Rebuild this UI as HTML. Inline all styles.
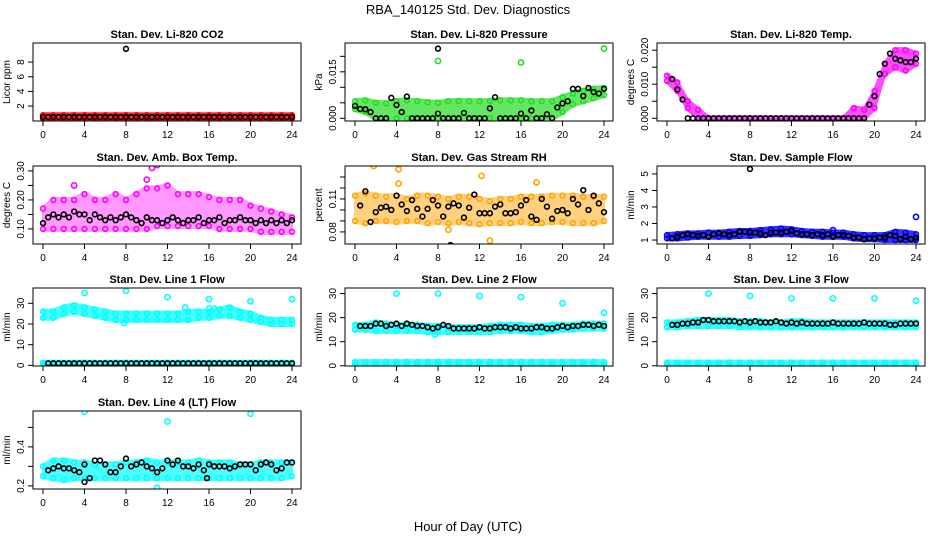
<!DOCTYPE html>
<html><head><meta charset="utf-8">
<style>
html,body{margin:0;padding:0;background:#fff;}
svg{display:block;font-family:"Liberation Sans",sans-serif;}
</style></head>
<body>
<svg id="fig" width="936" height="540" viewBox="0 0 936 540" xmlns="http://www.w3.org/2000/svg">
<text x="468" y="14" text-anchor="middle" font-size="13">RBA_140125  Std. Dev. Diagnostics</text>
<text x="468" y="531" text-anchor="middle" font-size="13">Hour of Day (UTC)</text>
</svg>
<script>
// ---- data (hourly colored bands: 25 values; black points: every 0.5 h, 49 values) ----
const xTicks = [0,4,8,12,16,20,24];
const co2Lo = [0.3,0.3,0.3,0.3,0.3,0.3,0.3,0.3,0.3,0.3,0.3,0.3,0.3,0.3,0.3,0.3,0.3,0.3,0.3,0.3,0.3,0.3,0.3,0.3,0.3];
const co2Hi = [0.75,0.75,0.75,0.75,0.75,0.75,0.75,0.75,0.75,0.75,0.75,0.75,0.75,0.75,0.75,0.75,0.75,0.75,0.75,0.75,0.75,0.75,0.75,0.75,0.75];
const co2Blk = [0.5,0.5,0.5,0.5,0.5,0.5,0.5,0.5,0.5,0.5,0.5,0.5,0.5,0.5,0.5,0.5,0.5,0.5,0.5,0.5,0.5,0.5,0.5,0.5,0.5,0.5,0.5,0.5,0.5,0.5,0.5,0.5,0.5,0.5,0.5,0.5,0.5,0.5,0.5,0.5,0.5,0.5,0.5,0.5,0.5,0.5,0.5,0.5,0.5];
const co2Out = [];
const co2BlkOut = [[8,9.8]];

const presHi = [.0055,.0058,.0050,.0048,.0055,.0058,.0055,.0052,.0050,.0055,.0056,.0055,.0055,.0056,.0058,.0058,.0058,.0055,.0055,.0055,.0068,.0080,.0088,.0095,.0098];
const presLo = [.0030,.0020,.0000,.0000,.0000,.0000,.0000,.0000,.0000,.0000,.0000,.0000,.0000,.0000,.0000,.0000,.0000,.0000,.0000,.0000,.0020,.0045,.0055,.0065,.0075];
const presBlk = [.0040,.0030,.0029,.0020,.0000,.0000,.0000,.0066,.0043,.0020,.0070,.0000,.0000,.0000,.0000,.0000,.0015,.0000,.0000,.0000,.0000,.0017,.0000,.0000,.0000,.0000,.0032,.0068,.0000,.0000,.0000,.0000,.0015,.0000,.0025,.0000,.0000,.0013,.0000,.0035,.0048,.0055,.0095,.0095,.0072,.0098,.0085,.0080,.0095];
const presOut = [[8,.0185],[16,.018],[24,.0225]];
const presBlkOut = [[8,.0225]];

const tempHi = [.0125,.0105,.0050,.0025,0,0,0,0,0,0,0,0,0,0,0,0,0,0,.0030,.0025,.0080,.0160,.0200,.0200,.0190];
const tempLo = [.0110,.0080,.0030,0,0,0,0,0,0,0,0,0,0,0,0,0,0,0,0,0,.0030,.0130,.0150,.0140,.0160];
const tempBlk = [null,.0115,.0085,.0055,0,0,0,0,0,0,0,0,0,0,0,0,0,0,0,0,0,0,0,0,0,0,0,0,0,0,0,0,0,0,0,0,0,0,0,.0040,.0065,.0130,.0160,.0190,.0175,.0170,.0165,.0165,.0175];
const tempOut = [];
const tempBlkOut = [];

const ambHi = [.17,.20,.20,.20,.22,.20,.20,.22,.20,.22,.24,.24,.25,.22,.22,.22,.21,.20,.20,.20,.18,.17,.16,.15,.14];
const ambLo = [.10,.10,.10,.10,.10,.10,.10,.10,.10,.10,.10,.11,.11,.11,.11,.11,.11,.10,.10,.10,.10,.09,.09,.09,.09];
const ambBlk = [.12,.14,.15,.14,.15,.14,.16,.15,.15,.13,.15,.14,.13,.14,.13,.14,.15,.14,.13,.12,.14,.13,.13,.12,.13,.14,.13,.12,.13,.13,.14,.12,.13,.13,.14,.12,.13,.13,.14,.13,.13,.12,.13,.12,.13,.12,.13,.12,.13];
const ambOut = [[10.5,.31],[11,.32],[10,.27],[3,.25]];
const ambBlkOut = [];

const rhHi = [.113,.115,.113,.112,.113,.110,.113,.113,.112,.110,.112,.112,.110,.108,.110,.110,.112,.112,.112,.113,.113,.113,.112,.112,.112];
const rhLo = [.090,.088,.090,.090,.089,.090,.090,.088,.089,.088,.089,.088,.087,.088,.088,.088,.089,.088,.088,.089,.089,.088,.088,.088,.090];
const rhBlk = [null,.104,.117,.089,.098,.102,.103,.100,.113,.105,.099,.109,.101,.094,.101,.109,.104,.094,.103,.106,.104,.093,.102,.114,.097,.097,.097,.103,.105,.097,.097,.098,.104,.109,.094,.091,.110,.103,.092,.099,.100,.097,.110,.105,.118,.100,.113,.106,.098];
const rhOut = [[1.8,.140],[4.2,.137],[4.2,.124],[12.2,.131],[17.5,.125],[9,.082],[13,.072]];
const rhBlkOut = [[9.2,.068]];

const sfHi = [1.3,1.35,1.4,1.4,1.45,1.45,1.5,1.55,1.55,1.6,1.65,1.7,1.65,1.55,1.5,1.5,1.45,1.45,1.35,1.3,1.3,1.3,1.5,1.45,1.35];
const sfLo = [1.1,1.1,1.15,1.2,1.2,1.2,1.2,1.25,1.25,1.3,1.35,1.35,1.35,1.3,1.25,1.2,1.2,1.2,1.1,1.05,1.05,1.0,1.0,1.0,1.0];
const sfBlk = [null,1.1,1.2,1.3,1.35,1.3,1.25,1.3,1.2,1.35,1.4,1.35,1.3,1.35,1.5,1.5,1.45,1.45,1.4,1.3,1.45,1.45,1.45,1.5,1.55,1.4,1.35,1.35,1.3,1.35,1.3,1.35,1.2,1.3,1.3,1.25,1.15,1.15,1.05,1.1,1.1,1.15,1.15,1.3,1.25,1.05,1.2,1.05,1.15];
const sfOut = [[24,2.4],[16,1.6]];
const sfBlkOut = [[8,5.3]];

const l1Hi = [26,26,28,29,28,27,26,25,25,25,25,25,25,25,26,26,26,27,28,26,25,23,22,22,22];
const l1Lo = [23,23,25,26,25,24,23,22,22,22,22,22,22,22,22,23,23,24,24,23,22,21,20,20,20];
const l1Blk = [null,1,1,1,1,1,1,1,1,1,1,1,1,1,1,1,1,1,1,1,1,1,1,1,1,1,1,1,1,1,1,1,1,1,1,1,1,1,1,1,1,1,1,1,1,1,1,1,1];
const l1Out = [[4,35],[8,36],[12,33],[16,32],[20,31],[24,32],[13.7,28],[16,27.5],[16.5,27.5],[7.8,20.5],[0.2,0.3]];
const l1BlkOut = [];

const l2Hi = [17,17,18,17.5,17,17,17,16.5,16.5,16,16,16,16,16.5,17,17,17,16.5,16.5,17,17,17,17.5,17.5,17.5];
const l2Lo = [15,15,14.5,14.5,14.5,14.5,14.5,14,14,14,14,14,14,14,14.5,14.5,14.5,14,14,14.5,15,15,15.5,15.5,15.5];
const l2Blk = [null,16.5,16.5,16.5,17.5,17.5,16.5,17,17.5,16.5,17.5,17,16.5,16.5,16,15.5,16,17,16.5,15.5,15.5,15.5,15.5,15.5,16,15.5,15.5,16,16,16,15.5,16,15.5,15.5,15.5,16,16,15.5,15.5,16,16.5,16,16.5,16.5,17,17,16.5,17,16.5];
const l2Out = [[4,30],[8,30],[12,29],[16,28.5],[20,26],[24,22],[7.7,13]];
const l2BlkOut = [];

const l3Hi = [18,18,18.5,19,19,19,19,18.5,18.5,18.5,18,18,18.5,18.5,18,18,18,18,18,18,18,18,18,18,18];
const l3Lo = [16,16,16.5,16.5,16.5,16.5,16.5,16,16,16,16,16,16,16,16,16,16,16,16,16,16,16,16,16,16];
const l3Blk = [null,17,17,17.5,17.5,18,18,19,19,18.5,18.5,18.5,18.5,18.5,18,18.5,18,18.5,18,18,18,18.5,18,17.5,18,17.5,18,17.5,17.5,17.5,17.5,17.5,18,17.5,17.5,17.5,17.5,17.5,18,17.5,17.5,17.5,17.5,17,17,17.5,17.5,17.5,17.5];
const l3Out = [[4,30],[8,29],[12,28],[16,28],[20,28],[24,27]];
const l3BlkOut = [];

const l4Hi = [.30,.33,.33,.32,.32,.31,.31,.31,.32,.32,.33,.32,.32,.32,.32,.33,.32,.32,.32,.31,.31,.32,.32,.32,.32];
const l4Lo = [.25,.24,.23,.24,.24,.24,.24,.24,.24,.24,.24,.24,.24,.24,.24,.24,.24,.24,.24,.24,.24,.24,.24,.24,.25];
const l4Blk = [null,.28,.29,.30,.29,.29,.28,.27,.31,.24,.33,.33,.31,.27,.27,.30,.34,.30,.31,.32,.30,.29,.27,.29,.33,.31,.33,.30,.30,.29,.31,.28,.31,.30,.30,.30,.29,.30,.31,.31,.31,.28,.31,.32,.31,.28,.29,.32,.32];
const l4Out = [[4,.58],[12,.53],[20,.57],[11,.19]];
const l4BlkOut = [[4,.22],[15.8,.24]];

const l1BaseLo = [0.3,0.3,0.3,0.3,0.3,0.3,0.3,0.3,0.3,0.3,0.3,0.3,0.3,0.3,0.3,0.3,0.3,0.3,0.3,0.3,0.3,0.3,0.3,0.3,0.3];
const l1BaseHi = [1.3,1.3,1.3,1.3,1.3,1.3,1.3,1.3,1.3,1.3,1.3,1.3,1.3,1.3,1.3,1.3,1.3,1.3,1.3,1.3,1.3,1.3,1.3,1.3,1.3];
const l2BaseLo = [0.4,0.4,0.4,0.4,0.4,0.4,0.4,0.4,0.4,0.4,0.4,0.4,0.4,0.4,0.4,0.4,0.4,0.4,0.4,0.4,0.4,0.4,0.4,0.4,0.4];
const l2BaseHi = [1.5,1.5,1.5,1.5,1.5,1.5,1.5,1.5,1.5,1.5,1.5,1.5,1.5,1.5,1.5,1.5,1.5,1.5,1.5,1.5,1.5,1.5,1.5,1.5,1.5];

const panels = [
 {key:'co2',title:'Stan. Dev. Li-820 CO2',ylab:'Licor ppm',r:0,c:0,ymin:-0.04,ymax:10.6,ticks:[2,4,6,8],labels:['2','4','6','8'],col:'#ff0000',alpha:0.8,bands:[[co2Lo,co2Hi]],blk:co2Blk,out:co2Out,blkOut:co2BlkOut},
 {key:'pressure',title:'Stan. Dev. Li-820 Pressure',ylab:'kPa',r:0,c:1,ymin:-0.00087,ymax:0.0243,ticks:[0,.005,.01,.015,.02],labels:['0.000','','','0.015',''],col:'#22dd22',alpha:0.7,bands:[[presLo,presHi]],blk:presBlk,out:presOut,blkOut:presBlkOut},
 {key:'temp',title:'Stan. Dev. Li-820 Temp.',ylab:'degrees C',r:0,c:2,ymin:-0.0008,ymax:0.0221,ticks:[0,.005,.01,.015,.02],labels:['0.000','','0.010','','0.020'],col:'#ff00ff',alpha:0.7,bands:[[tempLo,tempHi]],blk:tempBlk,out:tempOut,blkOut:tempBlkOut},
 {key:'amb-box-temp',title:'Stan. Dev. Amb. Box Temp.',ylab:'degrees C',r:1,c:0,ymin:0.048,ymax:0.317,ticks:[.1,.15,.2,.25,.3],labels:['0.10','','0.20','','0.30'],col:'#ff00ff',alpha:0.4,bands:[[ambLo,ambHi]],blk:ambBlk,out:ambOut,blkOut:ambBlkOut},
 {key:'gas-rh',title:'Stan. Dev. Gas Stream RH',ylab:'percent',r:1,c:1,ymin:0.069,ymax:0.14,ticks:[.08,.09,.10,.11,.12,.13],labels:['0.08','','','0.11','',''],col:'#ffa500',alpha:0.5,bands:[[rhLo,rhHi]],blk:rhBlk,out:rhOut,blkOut:rhBlkOut},
 {key:'sample-flow',title:'Stan. Dev. Sample Flow',ylab:'ml/min',r:1,c:2,ymin:0.76,ymax:5.48,ticks:[1,2,3,4,5],labels:['1','2','3','4','5'],col:'#0000ff',alpha:0.8,bands:[[sfLo,sfHi]],blk:sfBlk,out:sfOut,blkOut:sfBlkOut},
 {key:'line1-flow',title:'Stan. Dev. Line 1 Flow',ylab:'ml/min',r:2,c:0,ymin:-0.3,ymax:37.4,ticks:[0,10,20,30],labels:['0','10','20','30'],col:'#00ffff',alpha:0.75,bands:[[l1Lo,l1Hi],[l1BaseLo,l1BaseHi]],blk:l1Blk,out:l1Out,blkOut:l1BlkOut},
 {key:'line2-flow',title:'Stan. Dev. Line 2 Flow',ylab:'ml/min',r:2,c:1,ymin:-0.1,ymax:32.3,ticks:[0,10,20,30],labels:['0','10','20','30'],col:'#00ffff',alpha:0.75,bands:[[l2Lo,l2Hi],[l2BaseLo,l2BaseHi]],blk:l2Blk,out:l2Out,blkOut:l2BlkOut},
 {key:'line3-flow',title:'Stan. Dev. Line 3 Flow',ylab:'ml/min',r:2,c:2,ymin:-0.1,ymax:32.3,ticks:[0,10,20,30],labels:['0','10','20','30'],col:'#00ffff',alpha:0.75,bands:[[l3Lo,l3Hi],[l1BaseLo,l1BaseHi]],blk:l3Blk,out:l3Out,blkOut:l3BlkOut},
 {key:'line4-flow',title:'Stan. Dev. Line 4 (LT) Flow',ylab:'ml/min',r:3,c:0,ymin:0.184,ymax:0.584,ticks:[.2,.3,.4,.5],labels:['0.2','','0.4',''],col:'#00ffff',alpha:0.7,bands:[[l4Lo,l4Hi]],blk:l4Blk,out:l4Out,blkOut:l4BlkOut}
];

const NS='http://www.w3.org/2000/svg';
const svg=document.getElementById('fig');
const rowTops=[43,166,288,411];
function mk(tag,attrs,parent){const e=document.createElementNS(NS,tag);for(const k in attrs)e.setAttribute(k,attrs[k]);parent.appendChild(e);return e;}

panels.forEach(p=>{
  const L=33+312*p.c, T=rowTops[p.r], W=268, H=78;
  const g=mk('g',{},svg);
  
  
  const xs=h=>L+10+h*(249/24);
  const ys=v=>T+H-(v-p.ymin)/(p.ymax-p.ymin)*H;
  const clip='clip-'+p.key;
  const cp=mk('clipPath',{id:clip},g);mk('rect',{x:L,y:T,width:W,height:H},cp);
  const plot=mk('g',{'clip-path':'url(#'+clip+')'},g);
  p.bands.forEach((b,bi)=>{
    const lo=b[0],hi=b[1];
    let pts=[];
    hi.forEach((v,i)=>pts.push(xs(i)+','+(ys(v)-2)));
    for(let i=lo.length-1;i>=0;i--)pts.push(xs(i)+','+(ys(lo[i])+2));
    const poly=mk('polygon',{points:pts.join(' '),fill:p.col,stroke:p.col,'stroke-width':2,'stroke-linejoin':'round',opacity:p.alpha},plot);
    
    
    [lo,hi].forEach(arr=>arr.forEach((v,i)=>{
      const c=mk('circle',{cx:xs(i),cy:ys(v),r:2.4,fill:'none',stroke:p.col,'stroke-width':1.6},plot);
      
      
    }));
  });
  p.out.forEach(o=>{
    const c=mk('circle',{cx:xs(o[0]),cy:ys(o[1]),r:2.6,fill:'none',stroke:p.col,'stroke-width':1.6},plot);
    
    
  });
  p.blk.forEach((v,i)=>{
    if(v===null)return;
    const c=mk('circle',{cx:xs(i*0.5),cy:ys(v),r:2.4,fill:'none',stroke:'#000','stroke-width':1.6},plot);
    
    
  });
  p.blkOut.forEach(o=>{
    const c=mk('circle',{cx:xs(o[0]),cy:ys(o[1]),r:2.4,fill:'none',stroke:'#000','stroke-width':1.6},plot);
    
    
  });
  const box=mk('rect',{x:L,y:T,width:W,height:H,fill:'none',stroke:'#000','stroke-width':1},g);
  
  
  const t=mk('text',{x:L+W/2,y:T-5,'text-anchor':'middle','font-size':11,'font-weight':'bold'},g);
  t.textContent=p.title;
  
  
  mk('line',{x1:xs(0),x2:xs(24),y1:T+H,y2:T+H,stroke:'#000'},g);
  xTicks.forEach(h=>{
    mk('line',{x1:xs(h),x2:xs(h),y1:T+H,y2:T+H+5,stroke:'#000'},g);
    const tx=mk('text',{x:xs(h),y:T+H+17,'text-anchor':'middle','font-size':10},g);
    tx.textContent=h;
    
    
  });
  mk('line',{x1:L,x2:L,y1:ys(p.ticks[0]),y2:ys(p.ticks[p.ticks.length-1]),stroke:'#000'},g);
  p.ticks.forEach((v,i)=>{
    const y=ys(v);
    mk('line',{x1:L-5,x2:L,y1:y,y2:y,stroke:'#000'},g);
    if(p.labels[i]){
      const ty=mk('text',{x:0,y:0,'text-anchor':'middle','font-size':10,transform:'translate('+(L-9)+','+y+') rotate(-90)'},g);
      ty.textContent=p.labels[i];
      
      
    }
  });
  const yl=mk('text',{x:0,y:0,'text-anchor':'middle','font-size':10,transform:'translate('+(L-23)+','+(T+H/2)+') rotate(-90)'},g);
  yl.textContent=p.ylab;
  
  
});
</script>
</body></html>
